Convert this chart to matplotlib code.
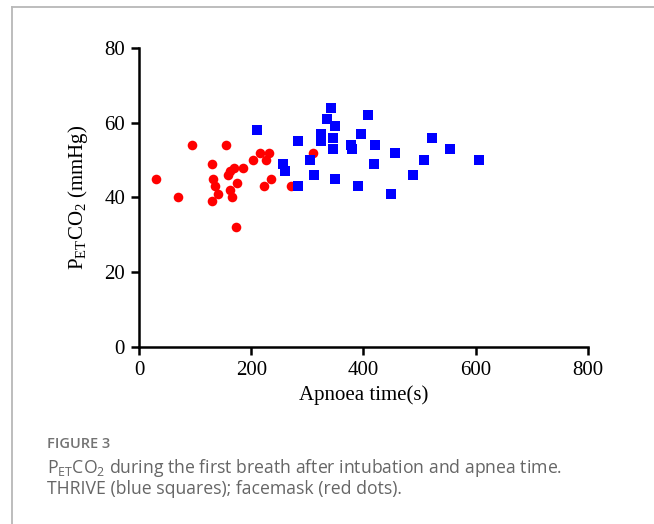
import matplotlib
matplotlib.use("Agg")
from matplotlib import pyplot as plt
from matplotlib.lines import Line2D

# facemask group (red dots)
mask_time = [30, 70, 95, 155, 131, 132, 135, 140, 130, 162, 159, 170, 174, 163, 166,
             185, 173, 203, 216, 232, 226, 222, 235, 270, 310]
mask_co2 = [45, 40, 54, 54, 49, 45, 43, 41, 39, 47, 46, 48, 44, 42, 40,
            48, 32, 50, 52, 52, 50, 43, 45, 43, 52]

# THRIVE group (blue squares)
thrive_time = [210, 256, 260, 283, 283, 305, 312, 324, 324, 335, 342, 350, 345, 345, 350,
               378, 380, 390, 396, 408, 421, 419, 449, 456, 489, 508, 523, 554, 606]
thrive_co2 = [58, 49, 47, 55, 43, 50, 46, 57, 55, 61, 64, 59, 56, 53, 45,
              54, 53, 43, 57, 62, 54, 49, 41, 52, 46, 50, 56, 53, 50]

xticks = [0, 200, 400, 600, 800]
yticks = [0, 20, 40, 60, 80]

fig = plt.figure(figsize=(6.54, 5.24), dpi=100)
ax = fig.add_axes([0.2125, 0.3378, 0.6865, 0.5706])

ax.scatter(mask_time, mask_co2, s=48, color="#ff0000", marker="o", linewidths=0, clip_on=False, zorder=3)
ax.scatter(thrive_time, thrive_co2, s=44, color="#0000ff", marker="s", linewidths=0, clip_on=False, zorder=3)

ax.set_xlim(0, 800)
ax.set_ylim(0, 80)
ax.set_xticks(xticks)
ax.set_yticks(yticks)
ax.spines['top'].set_visible(False)
ax.spines['right'].set_visible(False)
for s in ['left', 'bottom']:
    ax.spines[s].set_linewidth(1.8)
ax.tick_params(direction="out", length=6, width=1.8, labelsize=15, pad=4)
for lab in ax.get_xticklabels() + ax.get_yticklabels():
    lab.set_family("Liberation Serif")

ax.set_xlabel("Apnoea time(s)", fontsize=15, family="Liberation Serif", labelpad=4)
ax.set_ylabel(r"$\mathregular{P_{ET}CO_2}$ (mmHg)", fontsize=15, family="Liberation Serif", labelpad=10)

# caption
fig.text(47/654, 1 - 444/524, "FIGURE 3", fontsize=10.5, color="#737373", family="Open Sans",
         weight="semibold", va="center")
fig.text(47/654, 1 - 468/524, r"P$_{\mathregular{ET}}$CO$_\mathregular{2}$ during the first breath after intubation and apnea time.",
         fontsize=12.7, color="#666666", family="Open Sans", va="center")
fig.text(47/654, 1 - 489/524, "THRIVE (blue squares); facemask (red dots).",
         fontsize=12.7, color="#666666", family="Open Sans", va="center")

# light frame on top and left
fig.add_artist(Line2D([12/654, 1], [1 - 7/524, 1 - 7/524], color="#b8b8b8", linewidth=1.3, transform=fig.transFigure))
fig.add_artist(Line2D([12/654, 12/654], [1 - 7/524, 0], color="#b8b8b8", linewidth=1.3, transform=fig.transFigure))

plt.savefig("out.png", dpi=100)
